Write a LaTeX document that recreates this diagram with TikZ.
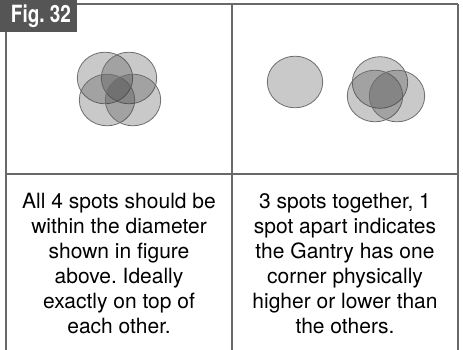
\documentclass[tikz,border=0pt]{standalone}
\usepackage{fontspec}
\setmainfont{TeX Gyre Heros}
\usepackage{graphicx}
\usetikzlibrary{positioning}
\frenchspacing
\definecolor{figgray}{RGB}{85,85,85}
\definecolor{rulegray}{RGB}{105,105,105}
\definecolor{spotfill}{RGB}{60,60,60}
\definecolor{spotedge}{RGB}{110,110,110}
\tikzset{
  spot/.style={fill=spotfill,fill opacity=.28,draw=spotedge,line width=.8pt},
  caption/.style={align=center,font=\fontsize{21}{25}\selectfont,inner sep=0pt}
}
\begin{document}
\begin{tikzpicture}[x=1pt,y=-1pt]
    \useasboundingbox (0,0) rectangle (463,350);
    % frame
    \draw[rulegray,line width=1.3pt] (6,4)--(458,4) (6,174)--(458,174);
    \foreach \x in {6,232,458}{\draw[rulegray,line width=1.3pt] (\x,4)--(\x,350);}
    % left panel: four spots
    \foreach \cx/\cy in {105/78,129/78,107/100,133/100}{\filldraw[spot] (\cx,\cy) ellipse [x radius=27.7,y radius=25.8];}
    % right panel: one apart, three together
    \foreach \cx/\cy in {295/82,380/82.5,375/96,397/96}{\filldraw[spot] (\cx,\cy) ellipse [x radius=27.7,y radius=25.8];}
    % label
    \fill[figgray] (0,0) rectangle (77,32);
    \node[white,font=\fontsize{23.7}{24}\selectfont\bfseries,inner sep=0pt] (figlbl) at (41,16.5) {\scalebox{.8}[1]{Fig. 32}};
    \node[caption] (lefttext) at (119,264) {All 4 spots should be\\within the diameter\\shown in figure\\above. Ideally\\exactly on top of\\each other.};
    \node[caption] (righttext) at (345,264) {3 spots together, 1\\spot apart indicates\\the Gantry has one\\corner physically\\higher or lower than\\the others.};
\end{tikzpicture}
\end{document}
